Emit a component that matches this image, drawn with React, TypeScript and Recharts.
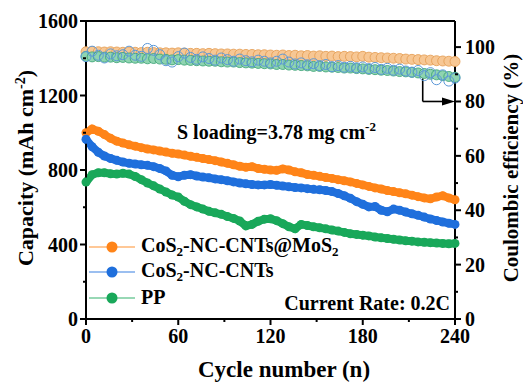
import { LineChart, Line, XAxis, YAxis, Legend, ReferenceLine, Label } from "recharts"

const cycles = [
  0, 4, 8, 12, 16, 20, 24, 28, 32, 36,
  40, 44, 48, 52, 56, 60, 64, 68, 72, 76,
  80, 84, 88, 92, 96, 100, 104, 108, 112, 116,
  120, 124, 128, 132, 136, 140, 144, 148, 152, 156,
  160, 164, 168, 172, 176, 180, 184, 188, 192, 196,
  200, 204, 208, 212, 216, 220, 224, 228, 232, 236,
  240,
]

// capacity, mAh cm-2
const capMoS2 = [
  1000, 1020, 1008, 990, 970, 955, 945, 935, 928, 920,
  913, 908, 902, 896, 890, 886, 880, 874, 868, 862,
  856, 850, 843, 836, 828, 820, 815, 818, 808, 804,
  800, 798, 806, 800, 790, 785, 776, 772, 766, 760,
  755, 748, 742, 736, 728, 720, 712, 704, 698, 690,
  684, 678, 672, 665, 657, 650, 645, 655, 662, 650,
  640,
]
const capCNTs = [
  965, 925, 895, 875, 862, 852, 843, 836, 832, 828,
  825, 818, 808, 795, 772, 764, 772, 775, 768, 762,
  758, 752, 748, 742, 736, 730, 726, 722, 720, 720,
  722, 718, 714, 710, 706, 704, 700, 696, 694, 690,
  684, 674, 662, 648, 630, 616, 602, 604, 584, 576,
  590, 584, 574, 565, 557, 547, 537, 529, 521, 514,
  508,
]
const capPP = [
  735, 775, 785, 785, 780, 778, 782, 778, 765, 748,
  730, 715, 698, 682, 666, 655, 632, 614, 602, 590,
  578, 570, 562, 550, 540, 526, 500, 508, 525, 536,
  538, 528, 512, 495, 484, 508, 502, 495, 490, 484,
  478, 472, 465, 458, 454, 450, 446, 440, 436, 432,
  428, 424, 420, 418, 414, 412, 410, 408, 406, 404,
  406,
]

// coulombic efficiency, %
const ceMoS2 = [
  98.3, 98.4, 98.3, 98.2, 98.3, 98.2, 98.1, 98.2, 98.1, 98.0,
  98.1, 98.0, 97.9, 97.9, 97.8, 97.9, 97.8, 97.7, 97.7, 97.6,
  97.7, 97.6, 97.5, 97.5, 97.4, 97.4, 97.3, 97.3, 97.2, 97.2,
  97.1, 97.0, 97.1, 96.9, 97.0, 96.8, 96.9, 96.7, 96.8, 96.6,
  96.7, 96.5, 96.6, 96.5, 96.4, 96.6, 96.3, 96.2, 96.1, 96.0,
  95.9, 95.8, 95.6, 95.5, 95.4, 95.3, 95.2, 95.0, 94.9, 94.8,
  94.7,
]
const ceCNTs = [
  96.5, 98.5, 97.0, 96.0, 97.5, 96.8, 97.2, 98.5, 97.0, 96.6,
  99.5, 98.8, 97.2, 95.0, 94.5, 96.5, 97.8, 96.2, 95.5, 96.4,
  95.8, 95.2, 96.0, 95.4, 94.8, 95.6, 95.0, 94.6, 95.2, 94.8,
  94.2, 94.8, 95.6, 94.5, 93.8, 94.2, 93.5, 93.9, 93.2, 93.6,
  92.8, 93.2, 92.6, 92.9, 92.4, 92.7, 92.1, 92.5, 91.8, 92.2,
  91.5, 91.9, 91.2, 90.8, 91.4, 89.5, 90.6, 88.0, 89.8, 87.5,
  88.6,
]
const cePP = [
  96.6, 96.4, 96.5, 96.3, 96.3, 96.1, 96.2, 96.0, 95.9, 95.9,
  95.7, 95.8, 95.6, 95.5, 95.3, 95.4, 95.2, 95.1, 95.0, 94.9,
  94.8, 94.8, 94.6, 94.5, 94.5, 94.3, 94.2, 94.1, 94.0, 93.9,
  93.8, 93.6, 93.6, 93.4, 93.3, 93.2, 93.1, 92.9, 92.9, 92.7,
  92.6, 92.5, 92.3, 92.3, 92.1, 92.0, 91.8, 91.7, 91.5, 91.4,
  91.2, 91.0, 90.9, 90.7, 90.5, 90.3, 90.0, 89.8, 89.5, 89.2,
  88.9,
]

const xTicks = [0, 30, 60, 90, 120, 150, 180, 210, 240]
const xMajor = [0, 60, 120, 180, 240]
const capTicks = [0, 200, 400, 600, 800, 1000, 1200, 1400, 1600]
const capMajor = [0, 400, 800, 1200, 1600]
const ceTicks = [0, 10, 20, 30, 40, 50, 60, 70, 80, 90, 100]
const ceMajor = [0, 20, 40, 60, 80, 100]

const legendOrder = ["capMoS2", "capCNTs", "capPP"]

const data = cycles.map((cycle, i) => ({
  cycle,
  capMoS2: capMoS2[i],
  capCNTs: capCNTs[i],
  capPP: capPP[i],
  ceMoS2: ceMoS2[i],
  ceCNTs: ceCNTs[i],
  cePP: cePP[i],
}))

const font = "'Liberation Serif', 'Times New Roman', serif"
const orange = "#ff8418"
const blue = "#1f6fdc"
const green = "#19a85a"

const txt = { fontFamily: font, fontWeight: 700, fontSize: 20, fill: "#000" }

// tickSize 6 + tickMargin 2 => axis sits 8px from the tick anchor
function XTick({ x, y, payload }: any) {
  const axisY = y - 8
  const major = xMajor.includes(payload.value)
  return (
    <g>
      <line x1={x} x2={x} y1={axisY} y2={axisY + (major ? 6 : 3)} stroke="#000" strokeWidth={2} />
      {major && (
        <text x={x} y={axisY + 24} textAnchor="middle" style={txt}>
          {payload.value}
        </text>
      )}
    </g>
  )
}

function LeftTick({ x, y, payload }: any) {
  const axisX = x + 8
  const major = capMajor.includes(payload.value)
  return (
    <g>
      <line x1={axisX} x2={axisX - (major ? 6 : 3)} y1={y} y2={y} stroke="#000" strokeWidth={2} />
      {major && (
        <text x={axisX - 8} y={y + 7} textAnchor="end" style={txt}>
          {payload.value}
        </text>
      )}
    </g>
  )
}

function RightTick({ x, y, payload }: any) {
  const axisX = x - 8
  const major = ceMajor.includes(payload.value)
  return (
    <g>
      <line x1={axisX} x2={axisX + (major ? 6 : 3)} y1={y} y2={y} stroke="#000" strokeWidth={2} />
      {major && (
        <text x={axisX + 10} y={y + 7} textAnchor="start" style={txt}>
          {payload.value}
        </text>
      )}
    </g>
  )
}

function ArrowShape(p: any) {
  return (
    <g>
      <line x1={p.x1} y1={p.y1} x2={p.x2 - 8} y2={p.y2} stroke="#000" strokeWidth={1.6} />
      <polygon points={`${p.x2},${p.y2} ${p.x2 - 13},${p.y2 - 4} ${p.x2 - 13},${p.y2 + 4}`} fill="#000" />
    </g>
  )
}

function withSub(name: string) {
  const parts = name.split("2")
  return parts.map((part, i) => (
    <span key={i}>
      {part}
      {i < parts.length - 1 && <sub style={{ fontSize: 13, verticalAlign: -4 }}>2</sub>}
    </span>
  ))
}

function LegendBox({ payload }: any) {
  const items = legendOrder
    .map((key) => (payload || []).find((p: any) => p.dataKey === key))
    .filter(Boolean)
  return (
    <div style={{ fontFamily: font, fontWeight: 700, fontSize: 20 }}>
      {items.map((item: any) => (
        <div key={item.dataKey} style={{ display: "flex", alignItems: "center", height: 25.5 }}>
          <svg width={48} height={14} style={{ marginRight: 5 }}>
            <line x1={1} x2={47} y1={7} y2={7} stroke={item.color} strokeOpacity={0.6} strokeWidth={1.5} />
            <circle cx={24} cy={7} r={5.5} fill={item.color} />
          </svg>
          <span>{withSub(item.value)}</span>
        </div>
      ))}
    </div>
  )
}

export default function App() {
  return (
    <div style={{ position: "absolute", left: 0, top: 0, width: 523, height: 383, background: "#fff" }}>
      <LineChart width={523} height={383} data={data} margin={{ top: 21, right: 0, bottom: 0, left: 0 }}>
        <XAxis
          dataKey="cycle"
          type="number"
          domain={[0, 240]}
          ticks={xTicks}
          interval={0}
          tick={<XTick />}
          tickLine={false}
          tickSize={6}
          tickMargin={2}
          height={64}
          axisLine={{ stroke: "#000", strokeWidth: 2 }}
        >
          <Label
            content={() => (
              <text x={198} y={377} textAnchor="start" style={{ ...txt, fontSize: 23 }}>
                Cycle number (n)
              </text>
            )}
          />
        </XAxis>
        <YAxis
          yAxisId="left"
          domain={[0, 1600]}
          ticks={capTicks}
          interval={0}
          tick={<LeftTick />}
          tickLine={false}
          tickSize={6}
          tickMargin={2}
          width={86}
          axisLine={{ stroke: "#000", strokeWidth: 2 }}
        >
          <Label
            content={() => (
              <text transform="translate(33,168) rotate(-90)" textAnchor="middle" style={{ ...txt, fontSize: 22 }}>
                Capacity (mAh cm<tspan dy={-8} fontSize={14}>-2</tspan>
                <tspan dy={8}>)</tspan>
              </text>
            )}
          />
        </YAxis>
        <YAxis
          yAxisId="right"
          orientation="right"
          domain={[0, 109.6]}
          ticks={ceTicks}
          interval={0}
          tick={<RightTick />}
          tickLine={false}
          tickSize={6}
          tickMargin={2}
          width={68}
          axisLine={{ stroke: "#000", strokeWidth: 2 }}
        >
          <Label
            content={() => (
              <text transform="translate(518,168) rotate(-90)" textAnchor="middle" style={{ ...txt, fontSize: 21 }}>
                Coulombic efficiency (%)
              </text>
            )}
          />
        </YAxis>

        <ReferenceLine yAxisId="left" y={1600} stroke="#000" strokeWidth={2} />

        <Line
          yAxisId="right"
          dataKey="ceMoS2"
          stroke="none"
          legendType="none"
          dot={{ r: 5, fill: "#f7c794", stroke: "#e39a4f", strokeWidth: 0.8 }}
          isAnimationActive={false}
        />
        <Line
          yAxisId="right"
          dataKey="cePP"
          stroke="none"
          legendType="none"
          dot={{ r: 5, fill: "#8fd4b0", stroke: "#34a070", strokeWidth: 0.8 }}
          isAnimationActive={false}
        />
        <Line
          yAxisId="right"
          dataKey="ceCNTs"
          stroke="none"
          legendType="none"
          dot={{ r: 5, fill: "none", stroke: "#5b98d8", strokeWidth: 1 }}
          isAnimationActive={false}
        />

        <Line
          yAxisId="left"
          dataKey="capMoS2"
          name="CoS2-NC-CNTs@MoS2"
          stroke={orange}
          strokeWidth={8}
          dot={{ r: 4.5, fill: orange, strokeWidth: 0 }}
          isAnimationActive={false}
        />
        <Line
          yAxisId="left"
          dataKey="capCNTs"
          name="CoS2-NC-CNTs"
          stroke={blue}
          strokeWidth={8}
          dot={{ r: 4.5, fill: blue, strokeWidth: 0 }}
          isAnimationActive={false}
        />
        <Line
          yAxisId="left"
          dataKey="capPP"
          name="PP"
          stroke={green}
          strokeWidth={8}
          dot={{ r: 4.5, fill: green, strokeWidth: 0 }}
          isAnimationActive={false}
        />

        <ReferenceLine yAxisId="right" segment={[{ x: 219, y: 88.5 }, { x: 219, y: 80 }]} stroke="#000" strokeWidth={1.6} />
        <ReferenceLine yAxisId="right" segment={[{ x: 219, y: 80 }, { x: 240, y: 80 }]} shape={ArrowShape} />

        <Legend
          layout="vertical"
          align="center"
          verticalAlign="middle"
          wrapperStyle={{ left: 88, top: 234, width: 280 }}
          content={<LegendBox />}
        />
      </LineChart>

      <div style={{ position: "absolute", left: 177, top: 117, fontFamily: font, fontWeight: 700, fontSize: 20, lineHeight: "20px", whiteSpace: "nowrap" }}>
        S loading=3.78 mg cm<sup style={{ fontSize: 13, verticalAlign: 8 }}>-2</sup>
      </div>
      <div style={{ position: "absolute", right: 73, top: 293, fontFamily: font, fontWeight: 700, fontSize: 20, lineHeight: "20px", whiteSpace: "nowrap" }}>
        Current Rate: 0.2C
      </div>
    </div>
  )
}
